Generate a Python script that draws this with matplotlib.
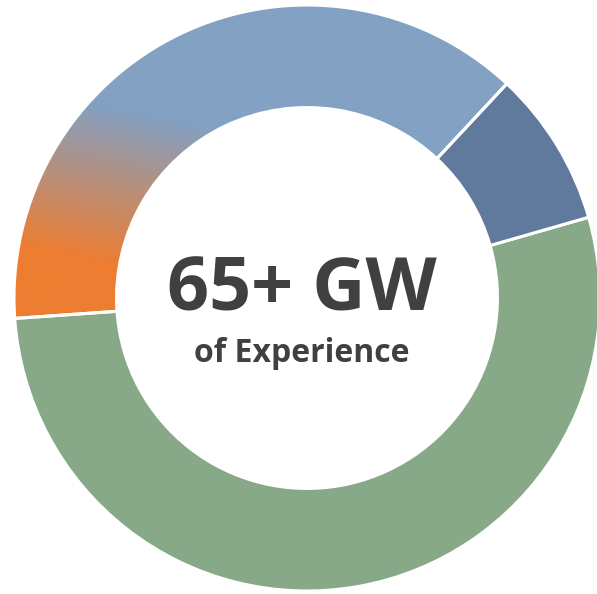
from matplotlib import pyplot as plt
import numpy as np

# Доли кольца (в градусах), порядок против часовой стрелки начиная снизу слева
labels = ['green', 'dark blue', 'gradient']
values = [192, 31, 137]
colors = ['#88A988', '#5F7A9D', 'none']

title = '65+ GW'
subtitle = 'of Experience'

c_orange = np.array([0xED, 0x7D, 0x31]) / 255
c_blue = np.array([0x83, 0xA1, 0xC3]) / 255

fig = plt.figure(figsize=(5.97, 5.94), dpi=100)
ax = fig.add_axes([14 / 597, 3 / 594, 586 / 597, 586 / 594])

wedges, _ = ax.pie(values, colors=colors, startangle=-176, counterclock=True,
                   radius=1, wedgeprops=dict(width=0.35, edgecolor='white', linewidth=2.2))

# Градиент от оранжевого к голубому для третьего сегмента
n = 400
xs = np.linspace(-1, 1, n)
ys = np.linspace(-1, 1, n)
X, Y = np.meshgrid(xs, ys)
t = np.clip((Y + 0.2 * X - (-0.02)) / (0.52 - (-0.02)), 0, 1)
img = c_orange[None, None, :] * (1 - t[..., None]) + c_blue[None, None, :] * t[..., None]
im = ax.imshow(img, extent=(-1, 1, -1, 1), origin='lower', zorder=0.5, interpolation='bilinear')
im.set_clip_path(wedges[2])
wedges[2].set_zorder(1)

ax.set_xlim(-1, 1)
ax.set_ylim(-1, 1)
ax.axis('off')

ax.text(-0.019, -0.041, title, ha='center', va='baseline', fontsize=53, fontweight='bold',
        family='Open Sans', color='#404040')
ax.text(-0.019, -0.218, subtitle, ha='center', va='baseline', fontsize=23, fontweight='bold',
        family='Open Sans', color='#404040')

plt.savefig('out.png', dpi=100)
